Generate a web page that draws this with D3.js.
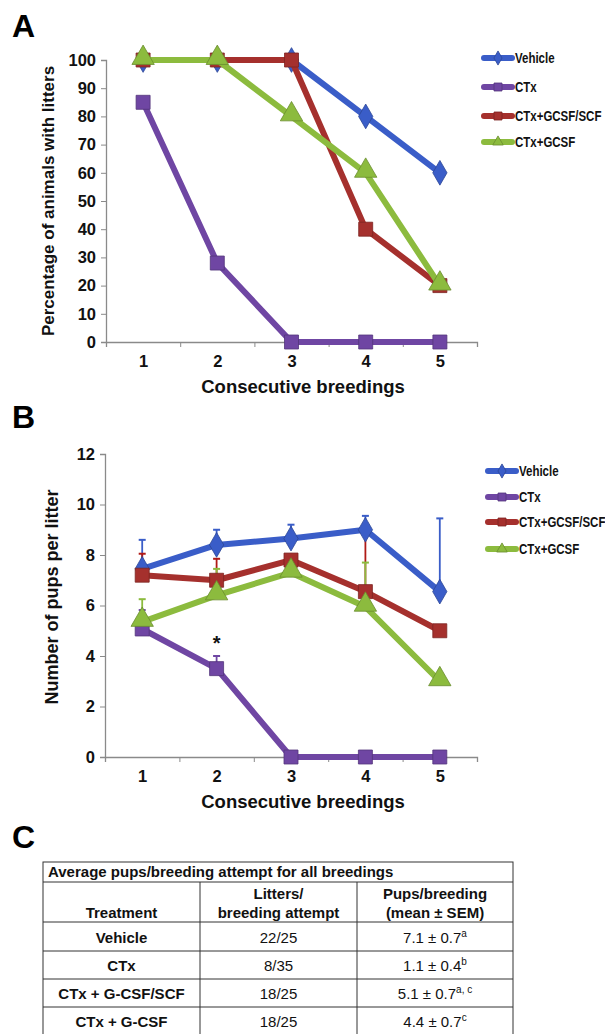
<!DOCTYPE html>
<html><head><meta charset="utf-8">
<script src="https://cdn.jsdelivr.net/npm/d3@7"></script>
<style>
body{margin:0;background:#fff;}
svg{display:block;font-family:"Liberation Sans",Arial,sans-serif;}
</style></head>
<body>
<svg id="c" width="605" height="1034"></svg>
<script>
// ---- data ----
const breedings = [1, 2, 3, 4, 5];
const seriesNames = ["Vehicle", "CTx", "CTx+GCSF/SCF", "CTx+GCSF"];
const seriesShapes = ["diamond", "square", "square", "triangle"];
const seriesColors = ["#3a5dc8", "#6f46a3", "#a5302d", "#8cbb3e"];

const pctVehicle = [100, 100, 100, 80, 60];
const pctCTx = [85, 28, 0, 0, 0];
const pctGcsfScf = [100, 100, 100, 40, 20];
const pctGcsf = [100, 100, 80, 60, 20];
const pctTicks = [0, 10, 20, 30, 40, 50, 60, 70, 80, 90, 100];

const pupsVehicle = [7.45, 8.4, 8.65, 9.0, 6.55];
const pupsVehicleErr = [1.15, 0.6, 0.55, 0.55, 2.9];
const pupsCTx = [5.07, 3.5, 0, 0, 0];
const pupsCTxErr = [0.75, 0.5, 0, 0, 0];
const pupsGcsfScf = [7.2, 7.0, 7.8, 6.55, 5.0];
const pupsGcsfScfErr = [0.85, 0.85, 0, 2.35, 0];
const pupsGcsf = [5.35, 6.4, 7.3, 5.95, 3.0];
const pupsGcsfErr = [0.9, 1.05, 0, 1.75, 0];
const pupsTicks = [0, 2, 4, 6, 8, 10, 12];

const tableTitle = "Average pups/breeding attempt for all breedings";
const tableHeaders = [["Treatment"], ["Litters/", "breeding attempt"], ["Pups/breeding", "(mean ± SEM)"]];
const tableTreatments = ["Vehicle", "CTx", "CTx + G-CSF/SCF", "CTx + G-CSF"];
const tableLitters = ["22/25", "8/35", "18/25", "18/25"];
const tableMeans = ["7.1 ± 0.7", "1.1 ± 0.4", "5.1 ± 0.7", "4.4 ± 0.7"];
const tableSup = ["a", "b", "a, c", "c"];

// ---- drawing ----
const svg = d3.select("#c");
const axisColor = "#8a8a8a";

function marker(g, shape, color, size) {
  let sym;
  if (shape === "diamond") sym = d3.symbol(d3.symbolDiamond, size * size * 0.9);
  else if (shape === "square") sym = d3.symbol(d3.symbolSquare, size * size);
  else sym = d3.symbol(d3.symbolTriangle, size * size * 0.75);
  return g.append("path").attr("d", sym())
    .attr("fill", color).attr("stroke", d3.color(color).darker(0.8)).attr("stroke-width", 0.8);
}

function panel(opts) {
  const g = svg.append("g");
  const x = d3.scaleLinear().domain([0.5, 5.5]).range([opts.x0, opts.x1]);
  const y = d3.scaleLinear().domain(opts.ydom).range([opts.yBottom, opts.yTop]);

  // y axis
  const ya = g.append("g").attr("transform", `translate(${opts.x0},0)`)
    .call(d3.axisLeft(y).tickValues(opts.yticks).tickSize(5).tickPadding(5));
  ya.selectAll("text").attr("font-size", 16.5).attr("font-weight", "bold").attr("fill", "#111");
  ya.selectAll("line").attr("stroke", axisColor);
  ya.select(".domain").attr("stroke", axisColor).attr("stroke-width", 1.3);

  // x axis
  const xa = g.append("g").attr("transform", `translate(0,${opts.yBottom})`)
    .call(d3.axisBottom(x).tickValues([0.5, 1.5, 2.5, 3.5, 4.5, 5.5]).tickFormat("").tickSize(5));
  xa.selectAll("line").attr("stroke", axisColor);
  xa.select(".domain").attr("stroke", axisColor).attr("stroke-width", 1.3);
  const xl = g.append("g").attr("transform", `translate(0,${opts.yBottom})`)
    .call(d3.axisBottom(x).tickValues(breedings).tickFormat(d3.format("d")).tickSize(0).tickPadding(13));
  xl.select(".domain").remove();
  xl.selectAll("text").attr("font-size", 16.5).attr("font-weight", "bold").attr("fill", "#111");

  g.append("text").attr("x", 303).attr("y", opts.yBottom + 51)
    .attr("text-anchor", "middle").attr("font-size", 18.5).attr("font-weight", "bold")
    .attr("fill", "#111").text("Consecutive breedings");
  g.append("text").attr("transform", `translate(${opts.ytitleX},${opts.ytitleY}) rotate(-90)`)
    .attr("text-anchor", "middle").attr("font-size", opts.ytitleSize).attr("font-weight", "bold")
    .attr("fill", "#111").text(opts.ytitle);

  // panel letter
  svg.append("text").attr("x", 12).attr("y", opts.letterY).attr("font-size", 32)
    .attr("font-weight", "bold").attr("fill", "#000").text(opts.letter);

  const line = d3.line().x((d, i) => x(breedings[i])).y(d => y(d));
  // error bars
  if (opts.errs) {
    opts.series.forEach((vals, s) => {
      const errs = opts.errs[s];
      const c = s === 2 ? "#b01a16" : seriesColors[s];
      vals.forEach((v, i) => {
        if (!errs[i]) return;
        const cx = x(breedings[i]), ty = y(v + errs[i]);
        g.append("line").attr("x1", cx).attr("x2", cx).attr("y1", y(v)).attr("y2", ty)
          .attr("stroke", c).attr("stroke-width", 1.8);
        g.append("line").attr("x1", cx - 3.5).attr("x2", cx + 3.5).attr("y1", ty).attr("y2", ty)
          .attr("stroke", c).attr("stroke-width", 2);
      });
    });
  }
  opts.series.forEach((vals, s) => {
    g.append("path").datum(vals).attr("d", line).attr("fill", "none")
      .attr("stroke", seriesColors[s]).attr("stroke-width", 6).attr("stroke-linejoin", "round");
    vals.forEach((v, i) => {
      const m = marker(g, seriesShapes[s], seriesColors[s], seriesShapes[s] === "triangle" ? 17 : 14);
      m.attr("transform", `translate(${x(breedings[i])},${y(v) + (seriesShapes[s] === "triangle" ? -2 : 0)})`);
    });
  });
  if (opts.star) {
    g.append("text").attr("x", x(opts.star.x)).attr("y", y(opts.star.y))
      .attr("text-anchor", "middle").attr("font-size", 20).attr("font-weight", "bold")
      .attr("fill", "#111").text("*");
  }

  // legend
  seriesNames.forEach((name, s) => {
    const ly = opts.legendY[s];
    const lg = g.append("g");
    lg.append("line").attr("x1", opts.legendX).attr("x2", opts.legendX + 28)
      .attr("y1", ly).attr("y2", ly).attr("stroke", seriesColors[s]).attr("stroke-width", 6)
      .attr("stroke-linecap", "round");
    marker(lg, seriesShapes[s], seriesColors[s], 8).attr("transform", `translate(${opts.legendX + 14},${ly})`);
    lg.append("text").attr("transform", `translate(${opts.legendX + 31},${ly}) scale(0.82,1)`)
      .attr("dy", "0.36em")
      .attr("font-size", 14).attr("font-weight", "bold").attr("fill", "#111").text(name);
  });
}

panel({
  x0: 106, x1: 477, yTop: 60, yBottom: 342, ydom: [0, 100], yticks: pctTicks,
  series: [pctVehicle, pctCTx, pctGcsfScf, pctGcsf],
  ytitle: "Percentage of animals with litters", ytitleX: 54, ytitleY: 201, ytitleSize: 17,
  letter: "A", letterY: 37, legendX: 484, legendY: [58, 87, 116, 142]
});
panel({
  x0: 105, x1: 477, yTop: 454, yBottom: 757, ydom: [0, 12], yticks: pupsTicks,
  series: [pupsVehicle, pupsCTx, pupsGcsfScf, pupsGcsf],
  errs: [pupsVehicleErr, pupsCTxErr, pupsGcsfScfErr, pupsGcsfErr],
  ytitle: "Number of pups per litter", ytitleX: 58, ytitleY: 597, ytitleSize: 18,
  letter: "B", letterY: 428, legendX: 488, legendY: [471, 497, 522, 549],
  star: { x: 2, y: 4.25 }
});

// ---- table C ----
svg.append("text").attr("x", 12).attr("y", 848).attr("font-size", 32)
  .attr("font-weight", "bold").attr("fill", "#000").text("C");
const tg = svg.append("g");
const colX = [43, 200, 357, 513];
const rowY = [862, 882, 922, 951, 979, 1007, 1035];
const bc = "#333";
const fs = 15;
tg.append("rect").attr("x", colX[0]).attr("y", rowY[0]).attr("width", colX[3] - colX[0])
  .attr("height", rowY[6] - rowY[0]).attr("fill", "none").attr("stroke", bc).attr("stroke-width", 1);
rowY.slice(1, 6).forEach(yy => tg.append("line").attr("x1", colX[0]).attr("x2", colX[3])
  .attr("y1", yy).attr("y2", yy).attr("stroke", bc).attr("stroke-width", 1));
[colX[1], colX[2]].forEach(xx => tg.append("line").attr("x1", xx).attr("x2", xx)
  .attr("y1", rowY[1]).attr("y2", rowY[6]).attr("stroke", bc).attr("stroke-width", 1));
tg.append("text").attr("x", 48).attr("y", 877).attr("font-size", fs).attr("font-weight", "bold")
  .attr("fill", "#111").text(tableTitle);
const colC = [121.5, 278.5, 435];
tableHeaders.forEach((lines, c) => {
  lines.forEach((t, k) => {
    const yy = lines.length === 1 ? 918 : 899 + k * 19;
    tg.append("text").attr("x", colC[c]).attr("y", yy).attr("text-anchor", "middle")
      .attr("font-size", fs).attr("font-weight", "bold").attr("fill", "#111").text(t);
  });
});
tableTreatments.forEach((t, r) => {
  const yy = (rowY[r + 2] + rowY[r + 3]) / 2 + 6;
  tg.append("text").attr("x", colC[0]).attr("y", yy).attr("text-anchor", "middle")
    .attr("font-size", fs).attr("font-weight", "bold").attr("fill", "#111").text(t);
  tg.append("text").attr("x", colC[1]).attr("y", yy).attr("text-anchor", "middle")
    .attr("font-size", fs).attr("fill", "#111").text(tableLitters[r]);
  const tt = tg.append("text").attr("x", colC[2]).attr("y", yy).attr("text-anchor", "middle")
    .attr("font-size", fs).attr("fill", "#111");
  tt.append("tspan").text(tableMeans[r]);
  tt.append("tspan").attr("dy", -6).attr("font-size", 10).text(tableSup[r]);
});
</script>
</body></html>
